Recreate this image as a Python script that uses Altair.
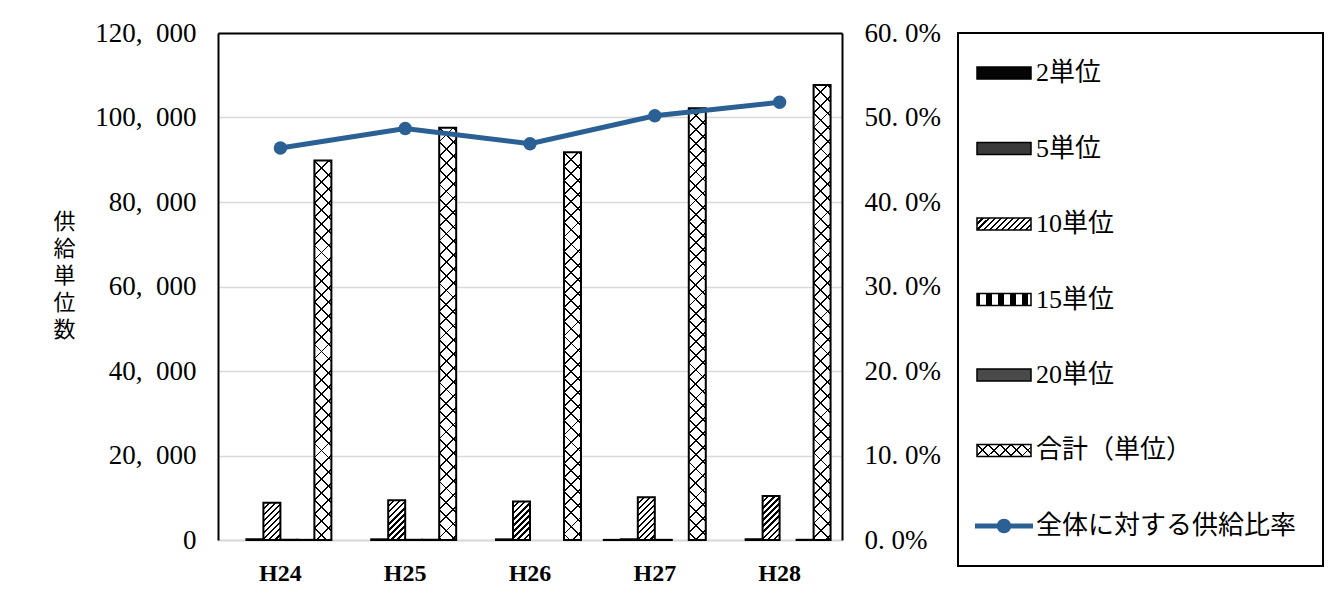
import math
import altair as alt
import pandas as pd

# ---------------- data ----------------
YEARS = ["H24", "H25", "H26", "H27", "H28"]
SERIES = ["2単位", "5単位", "10単位", "15単位", "20単位", "合計（単位）"]
V2 = [0, 0, 0, 30, 0]
V5 = [150, 160, 150, 170, 180]
V10 = [8800, 9400, 9100, 10100, 10400]
V15 = [60, 50, 0, 40, 0]
V20 = [40, 60, 0, 0, 50]
VTOTAL = [89800, 97600, 91800, 102200, 107700]
RATIO = [0.464, 0.487, 0.469, 0.502, 0.518]
LINE_NAME = "全体に対する供給比率"
Y_TITLE = "供給単位数"
Y_TICKS = [0, 20000, 40000, 60000, 80000, 100000, 120000]
R_TICKS = [0.0, 0.1, 0.2, 0.3, 0.4, 0.5, 0.6]

VALUES = [V2, V5, V10, V15, V20, VTOTAL]
rows = []
for s, vals in zip(SERIES, VALUES):
    for yr, v in zip(YEARS, vals):
        rows.append({"year": yr, "series": s, "value": v})
bars_df = pd.DataFrame(rows)
line_df = pd.DataFrame({"year": YEARS, "ratio": RATIO})
LEG_ITEMS = SERIES + [LINE_NAME]
legend_df = pd.DataFrame({"name": LEG_ITEMS})

# ---------------- style ----------------
SERIF = "Liberation Serif, Noto Sans CJK JP, serif"
CJK = "Noto Sans CJK JP, sans-serif"
BLUE = "#2b6095"
GRID = "#d9d9d9"
PLOT_W, PLOT_H = 624, 507
Y_MAX = 120000
PAD_IN, PAD_OUT = 0.183, 0.0915
TRANSP = "rgba(0,0,0,0)"

BAR_W = PLOT_W / (len(YEARS) - PAD_IN + 2 * PAD_OUT) * (1 - PAD_IN) / len(SERIES)


def stripe_gradient(w, h, angle, period, thick, ink="black", paper=TRANSP, phase=0.0):
    """Linear gradient (object bounding box units) emulating a hatch pattern."""
    rad = math.radians(angle)
    nx, ny = math.cos(rad), math.sin(rad)
    corners = [(0, 0), (1, 0), (0, 1), (1, 1)]
    ps = [nx * w * u + ny * h * v for u, v in corners]
    pmin, pmax = min(ps), max(ps)
    su, sv = corners[ps.index(pmin)]
    gx, gy = nx * w, ny * h
    span = pmax - pmin
    t = span / (gx * gx + gy * gy)
    stops = [{"offset": 0, "color": paper}]
    k = math.floor((pmin - phase) / period) - 1
    while True:
        c = phase + k * period
        k += 1
        a = (c - thick / 2 - pmin) / span
        b = (c + thick / 2 - pmin) / span
        if a >= 1:
            break
        if b <= 0:
            continue
        a = round(max(a, 0.0), 5)
        b = round(min(b, 1.0), 5)
        stops += [{"offset": a, "color": paper}, {"offset": a, "color": ink},
                  {"offset": b, "color": ink}, {"offset": b, "color": paper}]
    stops.append({"offset": 1, "color": paper})
    return {"gradient": "linear", "x1": su, "y1": sv,
            "x2": round(su + t * gx, 6), "y2": round(sv + t * gy, 6), "stops": stops}


# ---------------- encodings ----------------
x_enc = alt.X("year:N", sort=YEARS,
              scale=alt.Scale(domain=YEARS, paddingInner=PAD_IN, paddingOuter=PAD_OUT),
              axis=alt.Axis(title=None, labelAngle=0, labelFont=SERIF, labelFontSize=24,
                            labelFontWeight="bold", labelColor="black", ticks=False, tickSize=0,
                            labelPadding=21, domainColor=GRID, domainWidth=2, grid=False))
xoff_enc = alt.XOffset("series:N", sort=SERIES,
                       scale=alt.Scale(domain=SERIES, paddingInner=0, paddingOuter=0))
y_enc = alt.Y("value:Q",
              scale=alt.Scale(domain=[0, Y_MAX], nice=False, zero=True),
              axis=alt.Axis(values=Y_TICKS,
                            labelExpr="replace(format(datum.value, ','), ',', ',\u2002')",
                            labelFont=SERIF, labelFontSize=27, labelColor="black",
                            labelPadding=22, ticks=False, tickSize=0,
                            domainColor="black", domainWidth=2,
                            grid=True, gridColor=GRID, gridWidth=1.5,
                            title=list(Y_TITLE), titleAngle=0, titleX=-154, titleY=188,
                            titleAlign="center", titleBaseline="middle",
                            titleFont=CJK, titleFontSize=22, titleFontWeight="normal",
                            titleLineHeight=27, titleColor="black"))

base = alt.Chart(bars_df).encode(x=x_enc, xOffset=xoff_enc, y=y_enc)

bar_layers = [base.mark_bar(fill="white", strokeWidth=0)]

for i, yr in enumerate(YEARS):
    h10 = V10[i] / Y_MAX * PLOT_H
    g10 = stripe_gradient(BAR_W, h10, 45, 4.3, 1.7)
    bar_layers.append(
        base.transform_filter((alt.datum.year == yr) & (alt.datum.series == SERIES[2]))
        .mark_bar(fill=g10, strokeWidth=0))
    ht = VTOTAL[i] / Y_MAX * PLOT_H
    ga = stripe_gradient(BAR_W, ht, 45, 10.0, 1.3, phase=0.0)
    gb = stripe_gradient(BAR_W, ht, -45, 10.0, 1.3, phase=0.0)
    for g in (ga, gb):
        bar_layers.append(
            base.transform_filter((alt.datum.year == yr) & (alt.datum.series == SERIES[5]))
            .mark_bar(fill=g, strokeWidth=0))

bar_layers.append(
    base.transform_filter(alt.datum.value > 0)
    .mark_bar(fillOpacity=0, stroke="black", strokeWidth=2))

bars = alt.layer(*bar_layers)

line_base = alt.Chart(line_df).encode(
    x=alt.X("year:N", sort=YEARS,
            scale=alt.Scale(type="point", domain=YEARS, padding=0.5),
            axis=alt.Axis(orient="top", labels=False, ticks=False, tickSize=0, title=None,
                          domainColor="black", domainWidth=2, grid=False)),
    y=alt.Y("ratio:Q",
            scale=alt.Scale(domain=[0, 0.6], nice=False, zero=True),
            axis=alt.Axis(orient="right", values=R_TICKS,
                          labelExpr="replace(format(datum.value, '.1%'), '.', '. ')",
                          labelFont=SERIF, labelFontSize=27, labelColor="black",
                          labelPadding=22, ticks=False, tickSize=0,
                          domainColor="black", domainWidth=2, grid=False, title=None)),
)
line = alt.layer(
    line_base.mark_line(color=BLUE, strokeWidth=5),
    line_base.mark_point(filled=True, size=180, color=BLUE, opacity=1),
)

main = (
    alt.layer(bars, line)
    .resolve_scale(x="independent", y="independent")
    .properties(width=PLOT_W, height=PLOT_H, view=alt.ViewBackground(strokeWidth=0))
)

# ---------------- legend panel ----------------
RECT_PATH = "M-1,-0.22L1,-0.22L1,0.22L-1,0.22Z"
LINE_PATH = ("M-1,-0.09L1,-0.09L1,0.09L-1,0.09Z "
             "M-0.25,0A0.25,0.25 0 1,1 0.25,0A0.25,0.25 0 1,1 -0.25,0Z")
SYM_W, SYM_H = 54, 12
SYM_X, TXT_X = 46, 78

leg_y = alt.Y("name:N", sort=LEG_ITEMS,
              scale=alt.Scale(type="point", domain=LEG_ITEMS, padding=0.53), axis=None)
leg_base = alt.Chart(legend_df).encode(y=leg_y, x=alt.value(SYM_X))

SYMBOL_FILLS = {
    SERIES[0]: "#050505",
    SERIES[1]: "#3a3a3a",
    SERIES[2]: stripe_gradient(SYM_W, SYM_H, 45, 4.3, 1.7, paper="white"),
    SERIES[3]: stripe_gradient(SYM_W, SYM_H, 0, 12, 6, paper="white"),
    SERIES[4]: "#4a4a4a",
    SERIES[5]: stripe_gradient(SYM_W, SYM_H, 45, 8.0, 1.3, paper="white"),
}
leg_layers = []
for name, fill in SYMBOL_FILLS.items():
    leg_layers.append(
        leg_base.transform_filter(alt.datum.name == name)
        .mark_point(shape=RECT_PATH, size=SYM_W * SYM_W, filled=True, fill=fill,
                    stroke="black", strokeWidth=1.5, opacity=1))
leg_layers.append(
    leg_base.transform_filter(alt.datum.name == SERIES[5])
    .mark_point(shape=RECT_PATH, size=SYM_W * SYM_W, filled=True,
                fill=stripe_gradient(SYM_W, SYM_H, -45, 8.0, 1.3), strokeWidth=0, opacity=1))
leg_layers.append(
    leg_base.transform_filter(alt.datum.name == LINE_NAME)
    .mark_point(shape=LINE_PATH, size=58 * 58, filled=True, fill=BLUE, strokeWidth=0, opacity=1))
leg_layers.append(
    alt.Chart(legend_df).mark_text(align="left", baseline="middle", fontSize=26,
                                   font=SERIF, color="black")
    .encode(y=leg_y, x=alt.value(TXT_X), text="name:N"))

legend = alt.layer(*leg_layers).properties(
    width=365, height=533, view=alt.ViewBackground(stroke="black", strokeWidth=2))

chart = (
    alt.hconcat(main, legend, spacing=116, bounds="flush")
    .properties(padding={"left": 44, "top": 11, "right": 2, "bottom": 2})
    .configure_view(strokeWidth=0)
)

chart.save("out.html", embed_options={"renderer": "svg", "actions": False})
